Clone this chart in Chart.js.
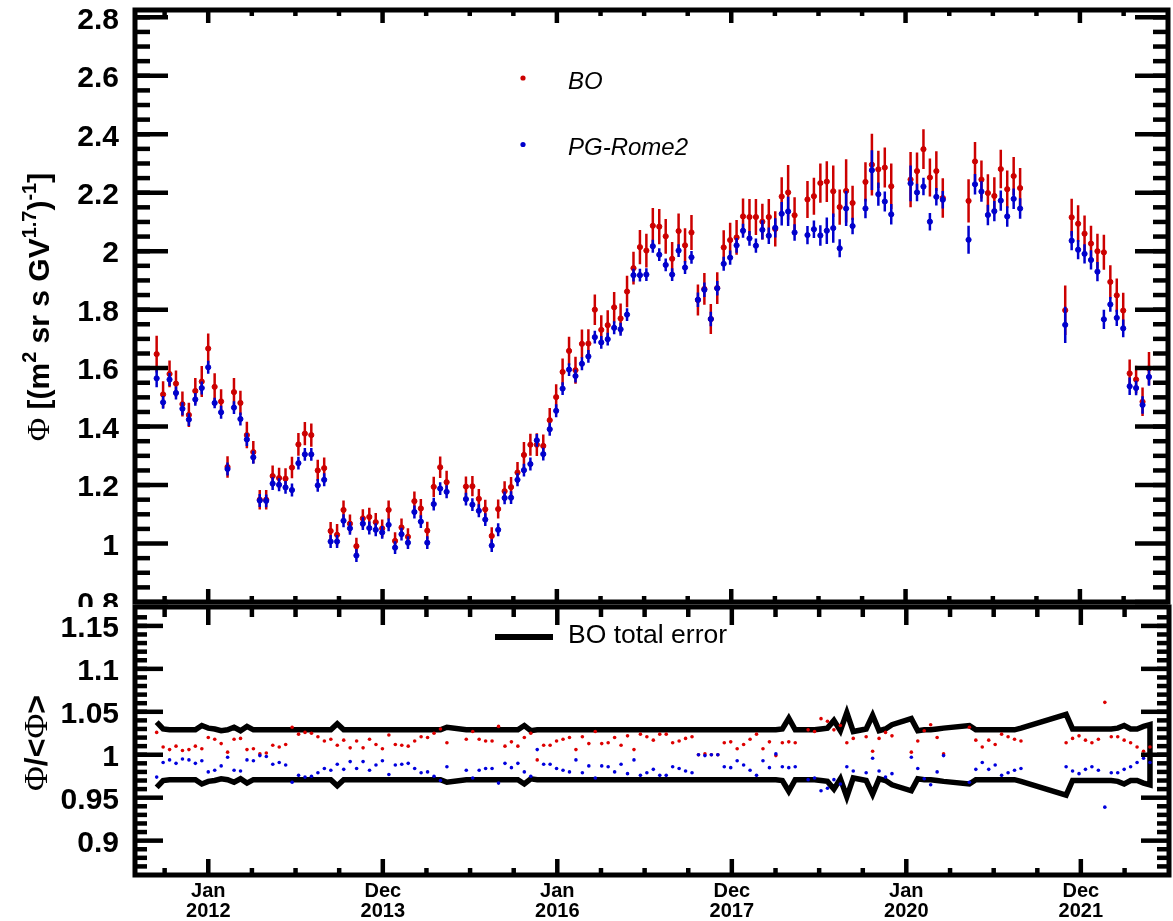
<!DOCTYPE html>
<html><head><meta charset="utf-8">
<script src="https://cdn.jsdelivr.net/npm/chart.js@4/dist/chart.umd.min.js"></script>
<style>
html,body{margin:0;padding:0;background:#fff;}
#wrap{position:relative;width:1173px;height:921px;overflow:hidden;background:#fff;}
canvas{position:absolute;left:0;}
#cTop{top:0;}
#cBot{top:603px;}
</style></head><body>
<div id="wrap">
<canvas id="cTop" width="1173" height="607"></canvas>
<canvas id="cBot" width="1173" height="318"></canvas>
</div>
<script>
// ---------------- DATA ----------------
// Bartels rotation number of each point
const bartels = [
2426,2427,2428,2429,2430,2431,2432,2433,2434,2435,2436,2437,2438,2439,2440,2441,2442,2443,2444,2445,
2446,2447,2448,2449,2450,2451,2452,2453,2454,2455,2456,2457,2458,2459,2460,2461,2462,2463,2464,2465,
2466,2467,2468,2469,2470,2471,
2474,2475,2476,2477,2478,2479,2480,2481,2482,2483,2484,2485,2486,2487,2488,2489,2490,2491,2492,2493,
2494,2495,2496,2497,2498,2499,2500,2501,2502,2503,2504,2505,2506,2507,2508,2509,2510,2511,2512,2513,
2514,2515,2516,2517,2518,2519,2520,2521,2522,2523,2524,2525,
2527,2528,2529,2530,2531,2532,2533,2534,
2536,2537,2538,2539,2540,
2543,2544,2545,2546,2547,2548,
2552,2553,2554,2555,2556,2557,2558,2559,2560,
2567,2568,2569,2570,2571,2572,2573,2574,2575,2576,2577,2578,2579,2580];

// BO flux
const boFlux = [
1.648,1.510,1.580,1.547,1.477,1.440,1.522,1.554,1.667,1.536,1.486,1.262,1.518,1.481,1.371,1.313,1.150,1.150,1.231,1.224,
1.222,1.260,1.339,1.376,1.371,1.250,1.258,1.043,1.030,1.115,1.068,0.991,1.086,1.091,1.073,1.052,1.115,1.009,1.055,1.023,
1.145,1.120,1.044,1.194,1.261,1.210,
1.195,1.196,1.153,1.117,1.026,1.118,1.179,1.193,1.243,1.303,1.338,1.338,1.334,1.422,1.501,1.587,1.659,1.593,1.683,1.684,
1.800,1.731,1.747,1.808,1.770,1.862,1.942,2.014,2.002,2.087,2.084,2.051,1.974,2.069,2.020,2.064,1.833,1.871,1.768,1.874,
2.013,2.038,2.047,2.119,2.117,2.117,2.101,2.117,2.076,2.187,2.201,2.123,
2.177,2.188,2.233,2.238,2.205,2.151,2.206,2.165,
2.237,2.296,2.280,2.286,2.222,
2.245,2.274,2.349,2.252,2.274,2.182,
2.172,2.307,2.245,2.199,2.189,2.281,2.212,2.257,2.216,
1.798,2.116,2.094,2.060,2.026,2.000,1.996,1.895,1.849,1.797,1.582,1.561,1.485,1.599];

// PG-Rome2 flux
const pgFlux = [
1.565,1.483,1.561,1.515,1.461,1.424,1.493,1.532,1.603,1.481,1.449,1.255,1.465,1.426,1.356,1.295,1.147,1.146,1.205,1.201,
1.192,1.183,1.275,1.305,1.305,1.199,1.218,1.007,1.007,1.078,1.052,0.959,1.068,1.053,1.047,1.038,1.064,0.986,1.032,1.003,
1.108,1.075,1.003,1.135,1.188,1.177,
1.152,1.133,1.112,1.082,0.993,1.047,1.156,1.157,1.218,1.251,1.272,1.353,1.306,1.391,1.454,1.530,1.595,1.573,1.615,1.640,
1.706,1.688,1.699,1.738,1.733,1.783,1.918,1.918,1.920,2.017,1.988,1.953,1.920,2.002,1.944,1.979,1.834,1.868,1.768,1.873,
1.957,1.978,2.020,2.070,2.044,2.019,2.073,2.053,2.080,2.128,2.136,2.064,
2.055,2.075,2.054,2.070,2.079,2.010,2.146,2.086,
2.146,2.277,2.195,2.170,2.126,
2.232,2.201,2.221,2.101,2.186,2.176,
2.039,2.229,2.204,2.124,2.137,2.173,2.119,2.179,2.146,
1.748,2.036,2.005,1.991,1.970,1.930,1.767,1.818,1.772,1.736,1.538,1.532,1.474,1.570];

// BO relative total error (half width of the black band in the ratio panel)
const boRelErr = [
0.038,0.030,0.029,0.029,0.029,0.029,0.029,0.034,0.031,0.030,0.028,0.029,0.032,0.028,0.033,0.029,0.029,0.029,0.029,0.029,
0.029,0.029,0.029,0.029,0.029,0.029,0.029,0.029,0.036,0.029,0.029,0.029,0.029,0.029,0.029,0.029,0.029,0.029,0.029,0.029,
0.029,0.029,0.029,0.029,0.029,0.032,
0.029,0.029,0.029,0.029,0.029,0.029,0.029,0.029,0.029,0.034,0.028,0.029,0.029,0.029,0.029,0.029,0.029,0.029,0.029,0.029,
0.029,0.029,0.029,0.029,0.029,0.029,0.029,0.029,0.029,0.029,0.029,0.029,0.029,0.029,0.029,0.029,0.029,0.029,0.029,0.029,
0.029,0.029,0.029,0.029,0.029,0.029,0.029,0.029,0.029,0.030,0.0425,0.029,
0.029,0.029,0.030,0.031,0.040,0.028,0.049,0.027,
0.030,0.046,0.028,0.030,0.035,
0.042,0.028,0.029,0.029,0.030,0.031,
0.034,0.029,0.029,0.029,0.029,0.029,0.029,0.029,0.031,
0.047,0.030,0.030,0.030,0.030,0.030,0.030,0.030,0.031,0.034,0.030,0.030,0.033,0.035];

// PG-Rome2 absolute error
const pgErr = [
0.030,0.022,0.022,0.022,0.022,0.022,0.022,0.022,0.022,0.018,0.022,0.022,0.022,0.022,0.022,0.022,0.022,0.022,0.022,0.022,
0.022,0.022,0.022,0.022,0.022,0.022,0.022,0.022,0.022,0.022,0.022,0.022,0.022,0.022,0.022,0.022,0.022,0.022,0.022,0.022,
0.022,0.022,0.022,0.022,0.022,0.022,
0.022,0.022,0.022,0.022,0.022,0.022,0.022,0.022,0.022,0.022,0.022,0.022,0.022,0.022,0.022,0.022,0.022,0.022,0.022,0.022,
0.022,0.022,0.022,0.022,0.022,0.022,0.022,0.022,0.022,0.022,0.022,0.022,0.022,0.022,0.022,0.022,0.025,0.025,0.025,0.025,
0.024,0.024,0.025,0.024,0.025,0.024,0.033,0.028,0.033,0.040,0.050,0.028,
0.031,0.030,0.035,0.045,0.050,0.031,0.060,0.028,
0.033,0.068,0.040,0.034,0.035,
0.061,0.030,0.030,0.030,0.030,0.030,
0.048,0.035,0.035,0.035,0.035,0.035,0.035,0.035,0.035,
0.062,0.033,0.033,0.033,0.033,0.033,0.033,0.025,0.028,0.030,0.030,0.025,0.030,0.030];

// Ratio to the mean of the two analyses (lower panel)
const boRatio = [
1.026,1.009,1.006,1.010,1.005,1.006,1.010,1.007,1.020,1.018,1.013,1.003,1.018,1.019,1.006,1.007,1.001,1.002,1.011,1.009,
1.012,1.032,1.024,1.026,1.025,1.021,1.016,1.018,1.011,1.017,1.008,1.016,1.008,1.018,1.012,1.007,1.023,1.012,1.011,1.010,
1.016,1.021,1.020,1.025,1.030,1.014,
1.018,1.027,1.018,1.016,1.016,1.033,1.010,1.015,1.010,1.020,1.025,0.994,1.011,1.011,1.016,1.018,1.020,1.006,1.021,1.013,
1.027,1.013,1.014,1.020,1.011,1.022,1.006,1.024,1.021,1.017,1.024,1.024,1.014,1.016,1.019,1.021,1.000,1.001,1.000,1.000,
1.014,1.015,1.007,1.012,1.018,1.024,1.007,1.015,0.999,1.014,1.015,1.014,
1.029,1.027,1.042,1.039,1.029,1.034,1.014,1.019,
1.021,1.004,1.019,1.026,1.022,
1.003,1.016,1.028,1.035,1.020,1.001,
1.032,1.017,1.009,1.017,1.012,1.024,1.021,1.018,1.016,
1.014,1.019,1.022,1.017,1.014,1.018,1.061,1.021,1.021,1.017,1.014,1.009,1.004,1.009];

const pgRatio = [
0.974,0.991,0.994,0.990,0.995,0.994,0.990,0.993,0.980,0.982,0.987,0.997,0.982,0.981,0.994,0.993,0.999,0.998,0.989,0.991,
0.988,0.968,0.976,0.974,0.975,0.979,0.984,0.982,0.989,0.983,0.992,0.984,0.992,0.982,0.988,0.993,0.977,0.988,0.989,0.990,
0.984,0.979,0.980,0.975,0.970,0.986,
0.982,0.973,0.982,0.984,0.984,0.967,0.990,0.985,0.990,0.980,0.975,1.006,0.989,0.989,0.984,0.982,0.980,0.994,0.979,0.987,
0.973,0.987,0.986,0.980,0.989,0.978,0.994,0.976,0.979,0.983,0.976,0.976,0.986,0.984,0.981,0.979,1.000,0.999,1.000,1.000,
0.986,0.985,0.993,0.988,0.982,0.976,0.993,0.985,1.001,0.986,0.985,0.986,
0.971,0.973,0.958,0.961,0.971,0.966,0.986,0.981,
0.979,0.996,0.981,0.974,0.978,
0.997,0.984,0.972,0.965,0.980,0.999,
0.968,0.983,0.991,0.983,0.988,0.976,0.979,0.982,0.984,
0.986,0.981,0.978,0.983,0.986,0.982,0.939,0.979,0.979,0.983,0.986,0.991,0.996,0.991];

// Axis ticks
const xTickValues = [2434.00, 2461.06, 2488.11, 2515.17, 2542.22, 2569.28];
const xTickLabels = [['Jan','2012'],['Dec','2013'],['Jan','2016'],['Dec','2017'],['Jan','2020'],['Dec','2021']];
const yTopTicks  = [0.8, 1, 1.2, 1.4, 1.6, 1.8, 2, 2.2, 2.4, 2.6, 2.8];
const yTopLabels = ['0.8','1','1.2','1.4','1.6','1.8','2','2.2','2.4','2.6','2.8'];
const yBotTicks  = [0.9, 0.95, 1, 1.05, 1.1, 1.15];
const yBotLabels = ['0.9','0.95','1','1.05','1.1','1.15'];

// ---------------- STYLE / LAYOUT ----------------
const FONT = "'Liberation Sans', Arial, Helvetica, sans-serif";
const SERIF = "'Liberation Serif', 'Times New Roman', serif";
const RED = '#cc0000', BLUE = '#0000cc';
const RED2 = '#dd0000', BLUE2 = '#0000dd';
const X_MIN = 2422.64, X_MAX = 2582.95;

// minor tick helpers (axis decoration)
function minorBetween(majors, nSub, lo, hi) {
  const step = (majors[1] - majors[0]) / nSub;
  const out = [];
  for (let v = majors[0] - step * Math.floor((majors[0] - lo) / step); v <= hi + 1e-9; v += step) {
    if (majors.some(m => Math.abs(m - v) < step * 0.1)) continue;
    if (v >= lo - 1e-9) out.push(v);
  }
  return out;
}
const xMinor = minorBetween(xTickValues, 4, X_MIN, X_MAX);
const yTopMinor = minorBetween([0.8, 1.0], 4, 0.8, 2.825);
const yBotMinor = minorBetween([0.9, 0.95], 5, 0.86, 1.172);

function makeFrame(cfg) {
  return {
    id: 'rootFrame',
    afterDatasetsDraw(chart) {
      const {ctx, chartArea: a} = chart;
      const x = chart.scales.x, y = chart.scales.y;
      ctx.save();
      ctx.strokeStyle = '#000';
      ctx.lineCap = 'butt';
      ctx.lineWidth = 4.5;
      const ln = (x1, y1, x2, y2) => { ctx.beginPath(); ctx.moveTo(x1, y1); ctx.lineTo(x2, y2); ctx.stroke(); };
      xTickValues.forEach(v => { const p = x.getPixelForValue(v);
        ln(p, a.bottom, p, a.bottom - cfg.xb[0]); ln(p, a.top, p, a.top + cfg.xt[0]); });
      xMinor.forEach(v => { const p = x.getPixelForValue(v);
        if (p < a.left + 3 || p > a.right - 3) return;
        ln(p, a.bottom, p, a.bottom - cfg.xb[1]); ln(p, a.top, p, a.top + cfg.xt[1]); });
      cfg.yMaj.forEach(v => { const p = y.getPixelForValue(v);
        ln(a.left, p, a.left + cfg.yl[0], p); ln(a.right, p, a.right - cfg.yl[0], p); });
      cfg.yMin.forEach(v => { const p = y.getPixelForValue(v);
        if (p < a.top + 2 || p > a.bottom - 2) return;
        ln(a.left, p, a.left + cfg.yl[1], p); ln(a.right, p, a.right - cfg.yl[1], p); });
      ctx.lineWidth = 5;
      ctx.strokeRect(a.left, a.top, a.right - a.left, a.bottom - a.top);
      ctx.restore();
    }
  };
}

function drawRotated(ctx, segs, baseX, centerY) {
  let total = 0;
  segs.forEach(s => { ctx.font = s.font; s.w = ctx.measureText(s.t).width; total += s.w; });
  ctx.save();
  ctx.translate(baseX, centerY + total / 2);
  ctx.rotate(-Math.PI / 2);
  ctx.textAlign = 'left'; ctx.textBaseline = 'alphabetic'; ctx.fillStyle = '#000';
  let cx = 0;
  segs.forEach(s => { ctx.font = s.font; ctx.fillText(s.t, cx, s.dy || 0); cx += s.w; });
  ctx.restore();
}

const topDecor = {
  id: 'topDecor',
  afterDraw(chart) {
    const ctx = chart.ctx;
    ctx.save();
    // legend
    ctx.fillStyle = RED; ctx.beginPath(); ctx.arc(523, 78, 2.6, 0, Math.PI * 2); ctx.fill();
    ctx.fillStyle = BLUE; ctx.beginPath(); ctx.arc(523, 144.5, 2.6, 0, Math.PI * 2); ctx.fill();
    ctx.fillStyle = '#000'; ctx.textBaseline = 'alphabetic'; ctx.textAlign = 'left';
    ctx.font = `italic 24px ${FONT}`;
    ctx.fillText('BO', 568, 89);
    ctx.fillText('PG-Rome2', 568, 155);
    ctx.restore();
    const B = `bold 30px ${FONT}`, S = `bold 20px ${FONT}`;
    drawRotated(ctx, [
      {t: 'Φ', font: `32px ${SERIF}`},
      {t: ' [(m', font: B}, {t: '2', font: S, dy: -13},
      {t: ' sr s GV', font: B}, {t: '1.7', font: S, dy: -13},
      {t: ')', font: B}, {t: '-1', font: S, dy: -13}, {t: ']', font: B}
    ], 49, 307);
  }
};

const botDecor = {
  id: 'botDecor',
  afterDraw(chart) {
    const ctx = chart.ctx;
    const off = 603; // canvas top in page coordinates
    ctx.save();
    ctx.strokeStyle = '#000'; ctx.lineWidth = 6; ctx.lineCap = 'butt';
    ctx.beginPath(); ctx.moveTo(495, 637 - off); ctx.lineTo(553, 637 - off); ctx.stroke();
    ctx.fillStyle = '#000'; ctx.font = `26.5px ${FONT}`; ctx.textBaseline = 'alphabetic'; ctx.textAlign = 'left';
    ctx.fillText('BO total error', 568, 643 - off);
    ctx.restore();
    drawRotated(ctx, [
      {t: 'Φ', font: `34px ${SERIF}`},
      {t: '/<', font: `bold 32px ${FONT}`},
      {t: 'Φ', font: `34px ${SERIF}`},
      {t: '>', font: `bold 32px ${FONT}`}
    ], 47, 743 - off);
  }
};

// ---------------- DATASETS ----------------
function pts(xs, ys) { return xs.map((x, i) => ({x, y: ys[i]})); }
function bars(xs, ys, errs) {
  const out = [];
  xs.forEach((x, i) => { out.push({x, y: ys[i] - errs[i]}, {x, y: ys[i] + errs[i]}, {x, y: null}); });
  return out;
}
const boAbsErr = boFlux.map((v, i) => v * boRelErr[i]);
const bandData = bartels.map((x, i) => ({x, y: 1 + boRelErr[i]}))
  .concat(bartels.map((x, i) => ({x, y: 1 - boRelErr[i]})).reverse());

const yAxisCommon = (min, max, ticks, labels) => ({
  type: 'linear', min, max,
  grid: {display: false, drawTicks: false}, border: {display: false},
  afterBuildTicks: s => { s.ticks = ticks.map(v => ({value: v})); },
  afterFit: s => { s.width = 135; s.paddingTop = 0; s.paddingBottom = 0; },
  ticks: {
    autoSkip: false, padding: 16, color: '#000', labelOffset: 3,
    font: {family: FONT, size: 30, weight: 'bold'},
    callback: v => { const i = ticks.findIndex(t => Math.abs(t - v) < 1e-6); return i >= 0 ? labels[i] : ''; }
  }
});

const common = {
  responsive: false, animation: false, events: [],
  plugins: {legend: {display: false}, tooltip: {enabled: false}, title: {display: false}}
};

new Chart(document.getElementById('cTop'), {
  type: 'scatter',
  data: {datasets: [
    {data: bars(bartels, pgFlux, pgErr), showLine: true, borderColor: BLUE, borderWidth: 2.5, pointRadius: 0, order: 1},
    {data: pts(bartels, pgFlux), pointRadius: 2.6, pointBackgroundColor: BLUE, pointBorderColor: BLUE, pointBorderWidth: 1, order: 0},
    {data: bars(bartels, boFlux, boAbsErr), showLine: true, borderColor: RED, borderWidth: 2.5, pointRadius: 0, order: 3},
    {data: pts(bartels, boFlux), pointRadius: 2.6, pointBackgroundColor: RED, pointBorderColor: RED, pointBorderWidth: 1, order: 2}
  ]},
  options: Object.assign({}, common, {
    layout: {padding: {left: 0, top: 10, right: 3, bottom: 2}},
    scales: {
      x: {type: 'linear', min: X_MIN, max: X_MAX, display: false},
      y: yAxisCommon(0.8, 2.825, yTopTicks, yTopLabels)
    }
  }),
  plugins: [makeFrame({xb: [13, 6], xt: [13, 6], yl: [33, 15], yMaj: yTopTicks, yMin: yTopMinor}), topDecor]
});

new Chart(document.getElementById('cBot'), {
  type: 'scatter',
  data: {datasets: [
    {data: bandData, showLine: true, borderColor: '#000', borderWidth: 5.5, pointRadius: 0, order: 2, borderJoinStyle: 'miter'},
    {data: pts(bartels, boRatio), pointRadius: 1.8, pointBackgroundColor: RED2, pointBorderWidth: 0, order: 1},
    {data: pts(bartels, pgRatio), pointRadius: 1.8, pointBackgroundColor: BLUE2, pointBorderWidth: 0, order: 0}
  ]},
  options: Object.assign({}, common, {
    layout: {padding: {left: 0, top: 2, right: 3, bottom: 0}},
    scales: {
      x: {
        type: 'linear', min: X_MIN, max: X_MAX,
        grid: {display: false, drawTicks: false}, border: {display: false},
        afterBuildTicks: s => { s.ticks = xTickValues.map(v => ({value: v})); },
        afterFit: s => { s.height = 46; s.paddingLeft = 0; s.paddingRight = 0; },
        ticks: {
          autoSkip: false, maxRotation: 0, minRotation: 0, padding: 6, color: '#000',
          font: {family: FONT, size: 20, weight: 'bold', lineHeight: 1.03},
          callback: v => { const i = xTickValues.findIndex(t => Math.abs(t - v) < 1e-3); return i >= 0 ? xTickLabels[i] : ''; }
        }
      },
      y: yAxisCommon(0.86, 1.172, yBotTicks, yBotLabels)
    }
  }),
  plugins: [makeFrame({xb: [16, 7], xt: [18, 10], yl: [28, 12], yMaj: yBotTicks, yMin: yBotMinor}), botDecor]
});
</script>
</body></html>
